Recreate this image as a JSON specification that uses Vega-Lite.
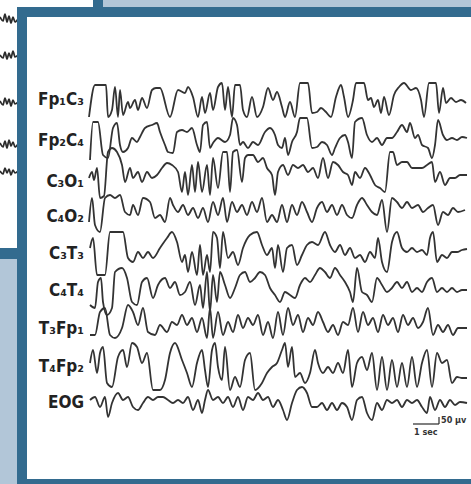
{
  "$schema": "https://vega.github.io/schema/vega-lite/v6.json",
  "width": 471,
  "height": 484,
  "autosize": {"type": "fit", "contains": "padding"},
  "padding": 0,
  "background": "#b2c6d8",
  "config": {"view": {"stroke": null}},
  "datasets": {
    "back": [
      {"part": "frame", "x": 0, "x2": 103, "y": 0, "y2": 259},
      {"part": "panel", "x": 0, "x2": 93, "y": 0, "y2": 248}
    ],
    "main": [
      {"part": "frame", "x": 17, "x2": 471, "y": 7, "y2": 484},
      {"part": "panel", "x": 27, "x2": 471, "y": 17, "y2": 479}
    ],
    "backTraces": [
      {"ch": "b1", "x": [0,3,5,7,9,11,13,15,18], "y": [17,21,14,22,16,23,17,22,19]},
      {"ch": "b2", "x": [0,3,5,7,9,11,13,15,18], "y": [55,58,52,59,53,58,51,57,55]},
      {"ch": "b3", "x": [0,3,5,7,9,11,13,15,18], "y": [101,105,98,104,99,106,100,104,102]},
      {"ch": "b4", "x": [0,3,5,7,9,11,13,15,18], "y": [143,147,141,148,140,146,142,147,144]},
      {"ch": "b5", "x": [0,3,5,7,9,11,13,15,18], "y": [171,174,168,173,169,175,170,173,171]}
    ],
    "traces": [
      {"ch": "Fp1C3",
       "x": [89,95,106,108,112,115,118,120,123,128,130,135,138,142,147,152,156,160,170,178,185,188,193,198,202,205,210,213,218,222,225,228,232,235,240,243,247,252,257,263,268,273,277,282,285,290,295,300,308,312,317,321,326,331,336,341,344,348,353,356,364,368,371,374,378,381,384,389,394,399,404,411,416,421,424,429,436,439,443,446,451,456,461,466],
       "y": [117,85,85,117,110,87,117,90,115,102,108,100,110,98,108,90,88,88,117,90,93,87,97,117,97,113,93,110,87,83,110,87,117,85,85,110,117,97,117,107,88,100,92,107,117,102,117,83,83,113,112,108,112,117,97,85,97,117,100,83,83,100,98,107,100,113,97,115,95,87,83,90,88,100,117,83,83,113,88,103,98,102,100,103]},
      {"ch": "Fp2C4",
       "x": [90,93,98,103,108,113,117,120,123,128,132,137,140,145,152,157,160,165,168,173,177,182,187,192,197,200,203,207,210,213,218,225,230,233,237,240,243,248,253,258,265,270,275,278,282,285,288,292,297,300,307,312,317,322,327,332,335,340,345,348,352,355,362,367,372,377,382,387,392,397,402,407,410,415,418,422,428,432,435,438,443,447,452,457,462,467],
       "y": [160,122,122,155,158,128,123,145,152,148,138,142,137,128,125,123,132,145,152,153,132,130,132,128,145,152,125,122,148,143,138,142,135,118,125,145,142,148,142,145,132,128,135,145,148,138,155,142,132,118,118,148,147,142,145,155,148,138,135,142,158,122,118,135,142,138,145,138,138,132,125,132,123,138,135,145,148,158,145,120,135,140,138,140,137,138]},
      {"ch": "C3O1",
       "x": [89,92,94,97,100,104,108,112,117,122,125,130,133,138,142,147,152,157,162,167,172,178,182,185,188,192,195,198,202,207,210,213,218,223,227,230,233,237,242,245,248,253,258,263,267,272,275,278,283,288,293,298,303,308,313,318,323,328,333,338,343,348,352,355,360,365,370,375,380,385,390,393,397,402,407,412,417,422,427,432,435,440,445,450,455,460,467],
       "y": [178,172,180,168,198,196,152,148,152,165,182,168,178,172,182,172,178,175,168,163,165,172,192,172,195,165,192,162,192,165,195,158,188,152,152,192,152,150,182,158,155,155,162,158,168,175,195,172,165,175,165,168,165,172,168,178,158,178,162,165,172,175,185,172,178,168,175,185,188,192,152,152,165,162,162,168,168,168,165,162,182,172,185,178,178,175,175]},
      {"ch": "C4O2",
       "x": [89,92,95,100,105,110,115,120,125,130,133,138,143,150,155,160,165,170,173,178,183,188,193,198,203,208,213,218,223,227,232,237,242,247,252,257,262,267,272,277,282,287,292,297,302,307,312,317,322,327,332,337,342,347,352,357,362,367,372,377,382,387,392,397,402,407,412,418,423,428,433,438,443,448,453,458,465],
       "y": [222,198,225,232,198,195,198,195,212,215,205,215,198,202,218,215,222,198,205,212,205,215,208,218,208,222,202,215,198,222,202,212,205,215,202,212,198,222,215,222,205,222,205,215,202,212,222,208,202,212,205,215,205,215,218,205,198,205,212,215,200,232,198,202,208,202,208,205,212,208,205,225,212,215,208,212,210]},
      {"ch": "C3T3",
       "x": [90,93,97,105,110,123,128,133,138,143,148,153,160,167,172,177,182,185,188,192,197,200,203,207,210,213,217,220,223,228,233,238,243,250,257,262,267,272,275,278,283,287,292,297,302,307,312,318,325,330,335,340,345,350,355,360,365,370,375,378,382,387,392,397,402,407,412,417,422,427,430,433,437,442,447,452,457,462,467],
       "y": [248,238,275,275,232,232,258,262,252,258,252,258,248,238,232,242,262,255,272,252,275,245,275,255,272,232,238,268,232,258,252,265,248,235,232,245,255,248,268,245,272,248,245,265,255,245,242,245,232,245,252,245,255,248,258,255,262,252,258,238,262,272,242,232,248,252,248,252,250,255,238,232,262,255,258,252,252,250,249]},
      {"ch": "C4T4",
       "x": [90,95,98,101,103,107,112,115,122,127,132,137,142,147,153,158,165,170,175,180,185,190,195,200,203,207,210,213,217,220,225,230,235,240,245,250,255,260,265,270,275,280,285,290,295,300,305,310,315,320,325,330,335,340,345,350,353,357,362,367,372,377,382,387,392,397,402,407,412,417,422,427,432,437,442,447,452,457,462,467],
       "y": [305,308,282,278,302,315,308,272,268,278,302,305,282,278,298,285,278,288,282,295,292,282,305,285,308,272,312,275,302,272,285,298,288,275,272,282,278,272,275,288,295,302,292,295,298,285,278,282,275,268,272,278,268,275,282,292,302,268,292,295,302,278,285,292,288,282,288,282,292,288,292,282,278,292,288,292,288,292,290,290]},
      {"ch": "T3Fp1",
       "x": [90,95,100,105,110,115,122,128,133,138,143,148,155,160,167,172,177,182,187,192,197,202,207,210,213,218,223,228,233,238,243,248,253,258,263,268,273,278,283,288,293,298,303,308,313,318,323,328,333,338,343,348,353,358,363,368,373,378,383,388,393,398,403,408,413,418,423,428,433,438,443,448,453,458,467],
       "y": [335,335,312,308,335,338,328,305,312,325,308,332,335,325,332,322,325,315,325,318,332,318,338,308,338,312,335,322,332,315,328,318,325,315,335,322,338,312,335,308,325,315,332,318,325,312,322,332,325,335,322,325,308,332,312,325,318,332,315,325,318,332,315,325,318,328,322,308,335,325,332,325,335,328,328]},
      {"ch": "T4Fp2",
       "x": [90,93,97,100,103,107,112,118,123,127,132,137,142,147,153,160,165,170,175,182,187,192,197,202,205,208,212,215,218,222,225,230,235,240,245,250,255,262,267,272,277,282,285,288,292,295,300,305,310,315,318,323,328,333,338,343,348,352,357,362,367,372,377,382,387,392,397,402,407,412,417,422,427,432,437,442,447,452,457,462,467],
       "y": [363,350,373,353,347,383,387,357,350,367,343,347,363,353,390,390,380,353,343,360,373,387,363,350,370,387,350,343,367,380,347,390,377,387,360,353,390,383,373,367,363,350,343,367,347,377,373,383,373,350,363,373,367,373,363,373,350,387,363,357,370,353,390,357,390,360,387,363,387,357,387,363,350,387,353,363,360,383,377,378,378]},
      {"ch": "EOG",
       "x": [90,95,100,105,108,112,118,123,128,133,138,143,148,153,158,163,168,173,178,183,188,193,198,202,205,208,213,218,223,228,233,238,243,248,253,258,263,268,273,278,283,287,292,297,302,307,312,317,322,327,332,337,342,347,352,357,362,367,372,377,382,387,392,397,402,407,412,417,422,427,430,435,440,445,450,455,460,467],
       "y": [400,397,407,397,417,403,393,400,397,407,410,403,397,400,397,397,400,403,400,403,397,410,400,413,400,390,400,397,403,397,407,397,410,397,400,393,400,397,407,400,410,420,403,390,387,393,407,407,403,410,403,410,403,407,420,400,397,413,420,403,410,400,403,400,407,400,403,400,407,413,397,410,400,407,400,405,402,403]}
    ],
    "labels": [
      {"lab": "Fp₁C₃", "x": 84, "y": 100},
      {"lab": "Fp₂C₄", "x": 84, "y": 141},
      {"lab": "C₃O₁", "x": 84, "y": 182},
      {"lab": "C₄O₂", "x": 84, "y": 217},
      {"lab": "C₃T₃", "x": 84, "y": 254},
      {"lab": "C₄T₄", "x": 84, "y": 291},
      {"lab": "T₃Fp₁", "x": 84, "y": 329},
      {"lab": "T₄Fp₂", "x": 84, "y": 367},
      {"lab": "EOG", "x": 84, "y": 403}
    ],
    "bar": [
      {"x": 413, "x2": 439, "y": 424, "y2": 424},
      {"x": 439, "x2": 439, "y": 417, "y2": 424}
    ],
    "barText": [
      {"t": "50 µv", "x": 441, "y": 420},
      {"t": "1 sec", "x": 414, "y": 432}
    ]
  },
  "layer": [
    {
      "data": {"name": "back"},
      "mark": {"type": "rect", "clip": true},
      "encoding": {
        "x": {"field": "x", "type": "quantitative", "scale": {"domain": [0, 471], "nice": false, "zero": false}, "axis": null},
        "x2": {"field": "x2"},
        "y": {"field": "y", "type": "quantitative", "scale": {"domain": [0, 484], "nice": false, "zero": false, "reverse": true}, "axis": null},
        "y2": {"field": "y2"},
        "color": {"field": "part", "type": "nominal", "scale": {"domain": ["frame", "panel"], "range": ["#336b8f", "#ffffff"]}, "legend": null}
      }
    },
    {
      "data": {"name": "backTraces"},
      "transform": [{"flatten": ["x", "y"]}],
      "mark": {"type": "line", "color": "#2b2b2b", "strokeWidth": 1.7, "interpolate": "monotone", "clip": true},
      "encoding": {
        "x": {"field": "x", "type": "quantitative"},
        "y": {"field": "y", "type": "quantitative"},
        "detail": {"field": "ch"}
      }
    },
    {
      "data": {"name": "main"},
      "mark": {"type": "rect", "clip": true},
      "encoding": {
        "x": {"field": "x", "type": "quantitative"},
        "x2": {"field": "x2"},
        "y": {"field": "y", "type": "quantitative"},
        "y2": {"field": "y2"},
        "color": {"field": "part", "type": "nominal", "legend": null}
      }
    },
    {
      "data": {"name": "traces"},
      "transform": [{"flatten": ["x", "y"]}],
      "mark": {"type": "line", "color": "#333333", "strokeWidth": 1.8, "interpolate": "monotone", "clip": true},
      "encoding": {
        "x": {"field": "x", "type": "quantitative"},
        "y": {"field": "y", "type": "quantitative"},
        "detail": {"field": "ch"}
      }
    },
    {
      "data": {"name": "labels"},
      "mark": {"type": "text", "align": "right", "baseline": "middle", "font": "DejaVu Sans Condensed, Liberation Sans, sans-serif", "fontSize": 17, "fontWeight": "bold", "color": "#222222"},
      "encoding": {
        "x": {"field": "x", "type": "quantitative"},
        "y": {"field": "y", "type": "quantitative"},
        "text": {"field": "lab"}
      }
    },
    {
      "data": {"name": "bar"},
      "mark": {"type": "rule", "color": "#2b2b2b", "strokeWidth": 1.2},
      "encoding": {
        "x": {"field": "x", "type": "quantitative"},
        "x2": {"field": "x2"},
        "y": {"field": "y", "type": "quantitative"},
        "y2": {"field": "y2"}
      }
    },
    {
      "data": {"name": "barText"},
      "mark": {"type": "text", "align": "left", "baseline": "middle", "font": "DejaVu Sans Condensed, Liberation Sans, sans-serif", "fontSize": 9, "fontWeight": "bold", "color": "#333333"},
      "encoding": {
        "x": {"field": "x", "type": "quantitative"},
        "y": {"field": "y", "type": "quantitative"},
        "text": {"field": "t"}
      }
    }
  ]
}
